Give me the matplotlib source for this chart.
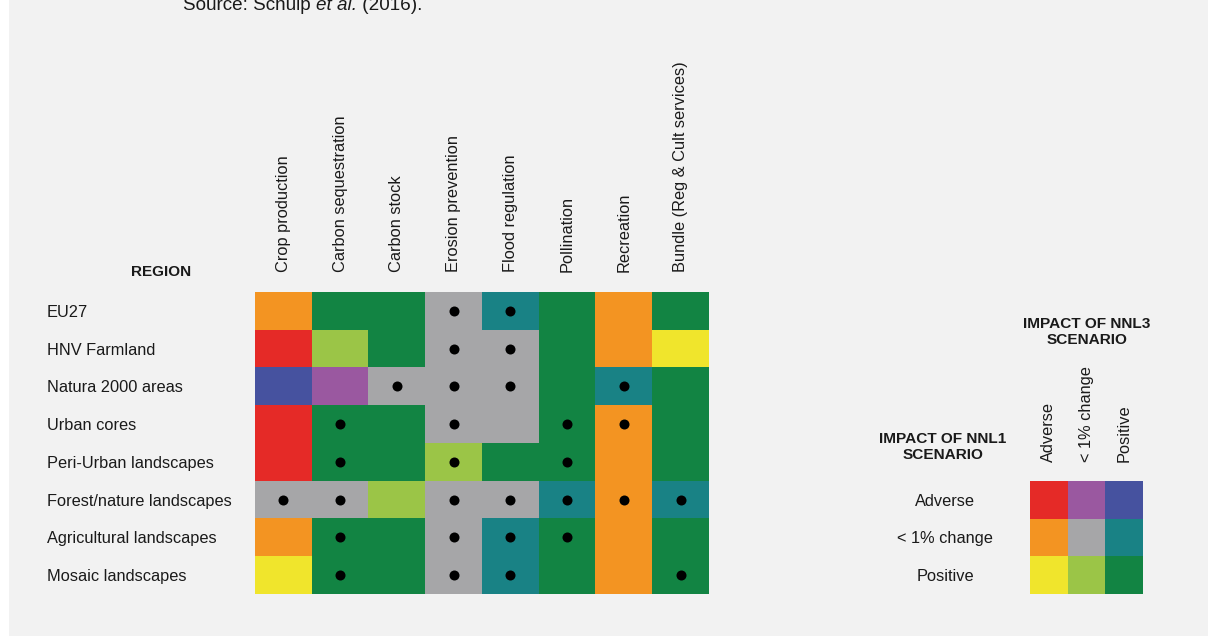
import numpy as np
import matplotlib
matplotlib.use("Agg")
import matplotlib.pyplot as plt
from matplotlib.colors import ListedColormap

plt.rcParams['font.family'] = ['Liberation Sans', 'DejaVu Sans']

regions = ["EU27", "HNV Farmland", "Natura 2000 areas", "Urban cores",
           "Peri-Urban landscapes", "Forest/nature landscapes",
           "Agricultural landscapes", "Mosaic landscapes"]
services = ["Crop production", "Carbon sequestration", "Carbon stock",
            "Erosion prevention", "Flood regulation", "Pollination",
            "Recreation", "Bundle (Reg & Cult services)"]
impact_levels = ["Adverse", "< 1% change", "Positive"]

# Code = NNL1 index * 3 + NNL3 index (0 Adverse, 1 <1% change, 2 Positive)
codes = [
    [3, 8, 8, 4, 5, 8, 3, 8],
    [0, 7, 8, 4, 4, 8, 3, 6],
    [2, 1, 4, 4, 4, 8, 5, 8],
    [0, 8, 8, 4, 4, 8, 3, 8],
    [0, 8, 8, 7, 8, 8, 3, 8],
    [4, 4, 7, 4, 4, 5, 3, 5],
    [3, 8, 8, 4, 5, 8, 3, 8],
    [6, 8, 8, 4, 5, 8, 3, 8],
]
dots = [
    [0, 0, 0, 1, 1, 0, 0, 0],
    [0, 0, 0, 1, 1, 0, 0, 0],
    [0, 0, 1, 1, 1, 0, 1, 0],
    [0, 1, 0, 1, 0, 1, 1, 0],
    [0, 1, 0, 1, 0, 1, 0, 0],
    [1, 1, 0, 1, 1, 1, 1, 1],
    [0, 1, 0, 1, 1, 1, 0, 0],
    [0, 1, 0, 1, 1, 0, 0, 1],
]
palette = ["#E52A27", "#9A58A0", "#46529F",
           "#F39422", "#A6A6A8", "#198285",
           "#F0E52C", "#9BC547", "#128443"]

W, H = 1208, 636
BG = "#F2F2F2"
fig = plt.figure(figsize=(W / 100, H / 100), dpi=100)
fig.patch.set_facecolor("white")
fig.patches.append(plt.Rectangle((9 / W, 0), 1 - 9 / W, 1, transform=fig.transFigure,
                                 facecolor=BG, edgecolor="none", zorder=-10))

def px_axes(l, t, r, b):
    return fig.add_axes([l / W, 1 - b / H, (r - l) / W, (b - t) / H])

cmap = ListedColormap(palette)
FS = 11.8
TC = "#1a1a1a"

# Main heatmap
ax = px_axes(255, 292, 709, 594)
arr = np.array(codes)
ax.imshow(arr, cmap=cmap, vmin=-0.5, vmax=8.5, aspect="auto", interpolation="nearest")
dy, dx = np.nonzero(np.array(dots))
ax.scatter(dx, dy, s=52, color="black", zorder=3, linewidths=0)
ax.set_xlim(-0.5, len(services) - 0.5)
ax.set_ylim(len(regions) - 0.5, -0.5)
ax.xaxis.tick_top()
ax.set_xticks(range(len(services)))
ax.set_xticklabels(services, rotation=90, fontsize=FS, color=TC)
ax.set_yticks(range(len(regions)))
ax.set_yticklabels(regions, fontsize=FS, color=TC)
for lab in ax.get_yticklabels():
    lab.set_horizontalalignment("left")
ax.tick_params(axis="x", length=0, pad=14.4)
ax.tick_params(axis="y", length=0, pad=(255 - 47) * 0.72)
for s in ax.spines.values():
    s.set_visible(False)
fig.text(161 / W, 1 - 272 / H, "REGION", fontsize=11, fontweight="bold",
         ha="center", va="center", color=TC)

# Source line (clipped at top as in the reference)
SFS = 13.6
base_y = 1 - 10 / H
t1 = fig.text(183 / W, base_y, "Source: Schulp ", fontsize=SFS, ha="left",
              va="baseline", color=TC)
fig.canvas.draw()
bb = t1.get_window_extent()
t2 = fig.text(bb.x1 / W, base_y, "et al.", fontsize=SFS, style="italic",
              ha="left", va="baseline", color=TC)
fig.canvas.draw()
bb2 = t2.get_window_extent()
fig.text(bb2.x1 / W, base_y, " (2016).", fontsize=SFS, ha="left",
         va="baseline", color=TC)

# Legend matrix
lax = px_axes(1030, 481, 1143, 594)
legend_grid = np.arange(9).reshape(3, 3)
lax.imshow(legend_grid, cmap=cmap, vmin=-0.5, vmax=8.5, aspect="auto",
           interpolation="nearest")
lax.xaxis.tick_top()
lax.set_xticks(range(3))
lax.set_xticklabels(impact_levels, rotation=90, fontsize=FS, color=TC)
lax.set_yticks(range(3))
lax.set_yticklabels(impact_levels, fontsize=FS, color=TC)
for lab in lax.get_yticklabels():
    lab.set_horizontalalignment("center")
lax.tick_params(axis="x", length=0, pad=13.7)
lax.tick_params(axis="y", length=0, pad=(1030 - 945) * 0.72)
for s in lax.spines.values():
    s.set_visible(False)

fig.text(943 / W, 1 - 447 / H, "IMPACT OF NNL1\nSCENARIO", fontsize=11.1,
         fontweight="bold", ha="center", va="center", linespacing=1.1,
         color=TC)
fig.text(1087 / W, 1 - 332 / H, "IMPACT OF NNL3\nSCENARIO", fontsize=11.1,
         fontweight="bold", ha="center", va="center", linespacing=1.1,
         color=TC)

fig.savefig("out.png", dpi=100, facecolor=fig.get_facecolor())
